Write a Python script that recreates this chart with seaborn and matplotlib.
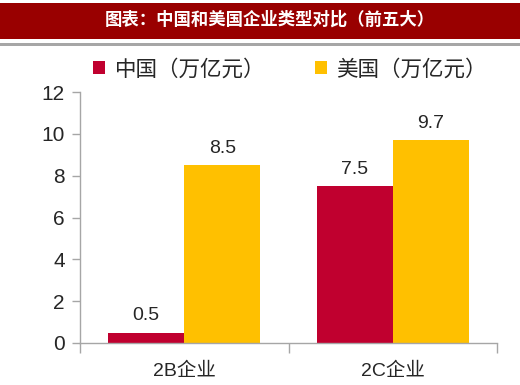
import matplotlib
matplotlib.use("Agg")
import matplotlib.pyplot as plt
import seaborn as sns
import pandas as pd
from matplotlib.patches import Rectangle
from matplotlib.ticker import FixedLocator

categories = ["2B企业", "2C企业"]
series_names = ["中国（万亿元）", "美国（万亿元）"]
china_values = [0.5, 7.5]
us_values = [8.5, 9.7]
value_labels_cn = ["0.5", "7.5"]
value_labels_us = ["8.5", "9.7"]
yticks = [0, 2, 4, 6, 8, 10, 12]
title = "图表：中国和美国企业类型对比（前五大）"
colors = ["#C0002F", "#FFC000"]

sns.set_style("white")
plt.rcParams['font.family'] = ['Liberation Sans', 'Noto Sans CJK SC', 'DejaVu Sans']

df = pd.DataFrame({
    "category": categories * 2,
    "series": [series_names[0]] * 2 + [series_names[1]] * 2,
    "value": china_values + us_values,
})

W, H = 520, 385
fig = plt.figure(figsize=(W / 100, H / 100), dpi=100)

# banner
fig.patches.append(Rectangle((0, 1 - 39 / H), 1, 36 / H, transform=fig.transFigure,
                             facecolor="#990000", edgecolor="none", zorder=0))
fig.patches.append(Rectangle((0, 1 - 46 / H), 1, 3 / H, transform=fig.transFigure,
                             facecolor="#A6A6A6", edgecolor="none", zorder=0))
fig.text(270 / W, 1 - 20 / H, title, color="white", fontsize=12.5, fontweight="bold",
         ha="center", va="center", family=['Noto Sans CJK SC'])

ax = fig.add_axes([80 / W, (H - 343) / H, (497 - 80) / W, (343 - 92) / H])
sns.barplot(data=df, x="category", y="value", hue="series", palette=colors,
            width=0.73, ax=ax, saturation=1, edgecolor="none")

ax.set_ylim(0, 12)
ax.set_xlim(-0.5, 1.5)
ax.set_yticks(yticks)
ax.set_yticklabels([str(t) for t in yticks], fontsize=15)
ax.set_xlabel("")
ax.set_ylabel("")
for s in ["top", "right"]:
    ax.spines[s].set_visible(False)
for s in ["left", "bottom"]:
    ax.spines[s].set_color("#A6A6A6")
    ax.spines[s].set_linewidth(1)
ax.tick_params(axis="y", direction="out", length=6, color="#A6A6A6", width=1, left=True, pad=5)
ax.tick_params(axis="x", which="major", length=0, labelsize=14, pad=14)
ax.xaxis.set_minor_locator(FixedLocator([-0.5, 0.5, 1.5]))
ax.tick_params(axis="x", which="minor", direction="out", length=7, color="#A6A6A6", width=1, bottom=True)

for cont, labs in zip(ax.containers, [value_labels_cn, value_labels_us]):
    ax.bar_label(cont, labels=labs, padding=6, fontsize=14)

handles, labels = ax.get_legend_handles_labels()
ax.legend(handles, labels, ncol=2, loc="center", bbox_to_anchor=((290 - 80) / 417, (343 - 70) / 251),
          frameon=False, fontsize=15.5, handlelength=0.55, handleheight=0.55,
          handletextpad=0.45, columnspacing=2.3, borderaxespad=0)

fig.savefig("out.png", dpi=100)
